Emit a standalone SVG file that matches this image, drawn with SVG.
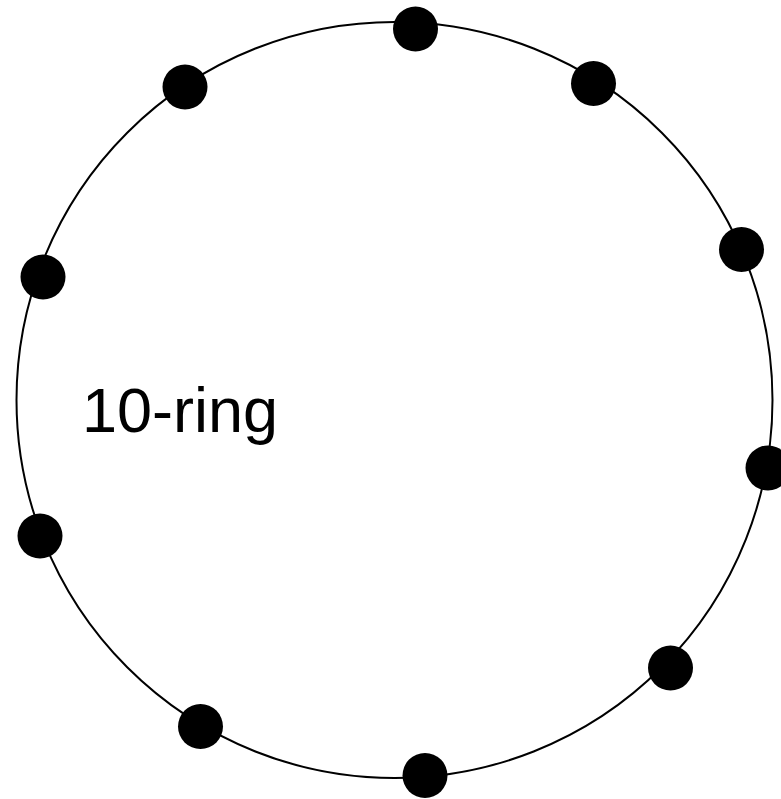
<svg xmlns="http://www.w3.org/2000/svg" width="781" height="799" viewBox="0 0 781 799">
<style>
.ring{fill:none;stroke:#000;stroke-width:2}
.dot{fill:#000}
.lbl{font-family:"Liberation Sans",Arial,sans-serif;font-size:63px;fill:#000}
</style>
<rect width="781" height="799" fill="#fff"/>
<g id="connectors">
<circle class="ring" cx="394.5" cy="400" r="378"/>
</g>
<g id="n1"><circle class="dot" cx="415.5" cy="29" r="22.5"/></g>
<g id="n2"><circle class="dot" cx="593.5" cy="83.5" r="22.5"/></g>
<g id="n3"><circle class="dot" cx="741.5" cy="249.5" r="22.5"/></g>
<g id="n4"><circle class="dot" cx="768" cy="468" r="22.5"/></g>
<g id="n5"><circle class="dot" cx="670.5" cy="668" r="22.5"/></g>
<g id="n6"><circle class="dot" cx="425" cy="775.5" r="22.5"/></g>
<g id="n7"><circle class="dot" cx="200.5" cy="726.5" r="22.5"/></g>
<g id="n8"><circle class="dot" cx="40" cy="536" r="22.5"/></g>
<g id="n9"><circle class="dot" cx="43" cy="277" r="22.5"/></g>
<g id="n10"><circle class="dot" cx="185" cy="87" r="22.5"/></g>
<text class="lbl" x="82" y="432">10-ring</text>
</svg>
